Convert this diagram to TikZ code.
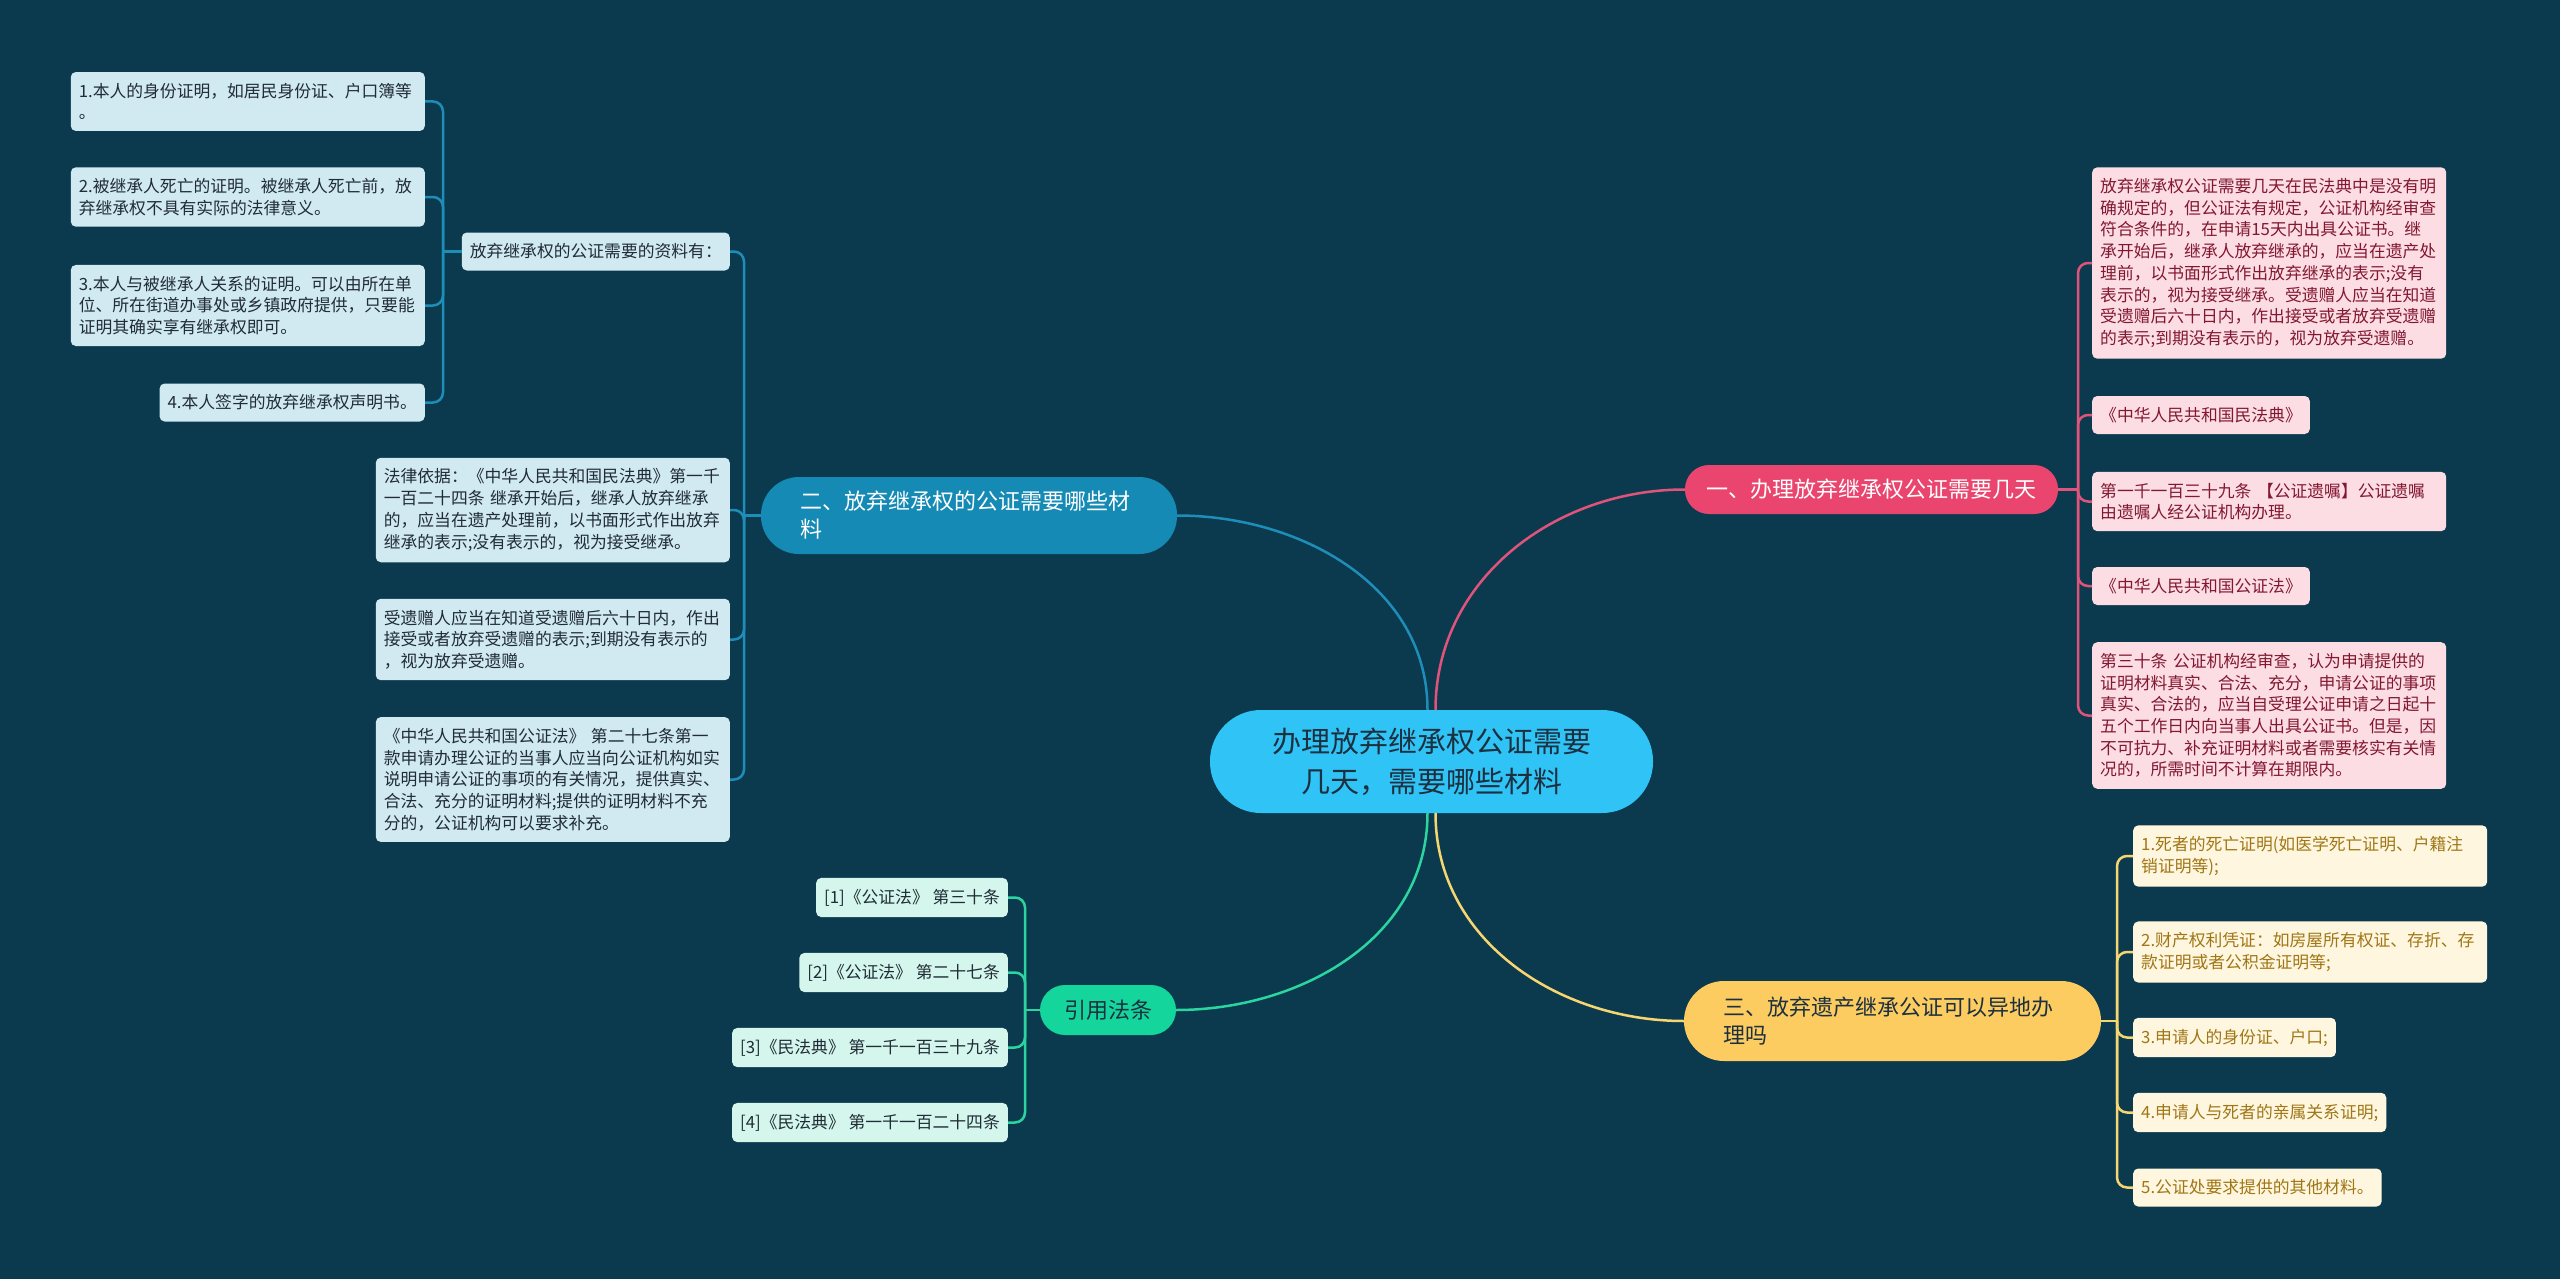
\documentclass[tikz,border=0pt]{standalone}
\usepackage{fontspec}
\setmainfont{Noto Sans CJK SC}
\usepackage{xcolor}
\usepackage{tikz}
\definecolor{bg}{RGB}{11,58,78}
\definecolor{root}{RGB}{48,196,246}
\definecolor{rootText}{RGB}{28,48,64}
\definecolor{pinkBr}{RGB}{233,69,110}
\definecolor{pinkLine}{RGB}{224,84,124}
\definecolor{pinkLeaf}{RGB}{252,221,228}
\definecolor{pinkText}{RGB}{130,24,48}
\definecolor{blueBr}{RGB}{21,138,180}
\definecolor{blueLine}{RGB}{30,142,184}
\definecolor{blueLeaf}{RGB}{209,233,241}
\definecolor{leafText}{RGB}{32,44,54}
\definecolor{yellowBr}{RGB}{253,204,96}
\definecolor{yellowLine}{RGB}{246,214,112}
\definecolor{yellowLeaf}{RGB}{254,246,222}
\definecolor{yellowText}{RGB}{160,118,22}
\definecolor{greenBr}{RGB}{20,214,156}
\definecolor{greenLine}{RGB}{44,212,160}
\definecolor{greenLeaf}{RGB}{212,246,236}

\begin{document}
\begin{tikzpicture}[x=1pt, y=-1pt,
    small/.style={font=\fontsize{16.8}{21.7}\selectfont},
    leaf/.style={small, rounded corners=5pt, inner xsep=8pt, inner ysep=11pt, minimum height=38pt},
    wide/.style={text width=338pt, align=left},
    pleaf/.style={leaf, fill=pinkLeaf, text=pinkText, anchor=west},
    bleaf/.style={leaf, fill=blueLeaf, text=leafText, anchor=east},
    yleaf/.style={leaf, fill=yellowLeaf, text=yellowText, anchor=west},
    gleaf/.style={leaf, fill=greenLeaf, text=leafText, anchor=east},
    branch/.style={font=\fontsize{22}{28}\selectfont},
    link/.style={line width=2.5pt, rounded corners=10pt},
    mainlink/.style={line width=2.5pt}]

    \fill[bg] (0,0) rectangle (2560,1279);
    \useasboundingbox (0,0) rectangle (2560,1279);

    % centre
    \node[fill=root, text=rootText, rounded corners=51pt, minimum width=443, minimum height=103,
          align=center, font=\fontsize{29}{40}\selectfont] (root) at (1431.5,761.5)
        {办理放弃继承权公证需要\\几天，需要哪些材料};

    % branches
    \node[branch, fill=pinkBr, text=white, rounded corners=24pt, minimum width=373, minimum height=49]
        (pk) at (1871.5,489.5) {一、办理放弃继承权公证需要几天};
    \node[branch, fill=blueBr, text=white, rounded corners=38pt, inner xsep=39pt, text width=338pt,
          align=left, minimum height=77] (bl) at (969,515.5) {二、放弃继承权的公证需要哪些材\\料};
    \node[branch, fill=yellowBr, text=rootText, rounded corners=40pt, inner xsep=39pt, text width=339pt,
          align=left, minimum height=80] (yw) at (1892.5,1021) {三、放弃遗产继承公证可以异地办\\理吗};
    \node[branch, fill=greenBr, text=rootText, rounded corners=25pt, minimum width=136, minimum height=50]
        (gr) at (1108,1010) {引用法条};

    % pink leaves
    \node[pleaf, wide] (p1) at (2092,263) {放弃继承权公证需要几天在民法典中是没有明\\确规定的，但公证法有规定，公证机构经审查\\符合条件的，在申请15天内出具公证书。继\\承开始后，继承人放弃继承的，应当在遗产处\\理前，以书面形式作出放弃继承的表示;没有\\表示的，视为接受继承。受遗赠人应当在知道\\受遗赠后六十日内，作出接受或者放弃受遗赠\\的表示;到期没有表示的，视为放弃受遗赠。};
    \node[pleaf] (p2) at (2092,415) {《中华人民共和国民法典》};
    \node[pleaf, wide] (p3) at (2092,501.5) {第一千一百三十九条 【公证遗嘱】公证遗嘱\\由遗嘱人经公证机构办理。};
    \node[pleaf] (p4) at (2092,586) {《中华人民共和国公证法》};
    \node[pleaf, wide] (p5) at (2092,715.5) {第三十条 公证机构经审查，认为申请提供的\\证明材料真实、合法、充分，申请公证的事项\\真实、合法的，应当自受理公证申请之日起十\\五个工作日内向当事人出具公证书。但是，因\\不可抗力、补充证明材料或者需要核实有关情\\况的，所需时间不计算在期限内。};

    % blue leaves
    \node[bleaf] (bint) at (730,251.5) {放弃继承权的公证需要的资料有：};
    \node[bleaf, wide] (l1) at (425,101.5) {1.本人的身份证明，如居民身份证、户口簿等\\。};
    \node[bleaf, wide] (l2) at (425,197) {2.被继承人死亡的证明。被继承人死亡前，放\\弃继承权不具有实际的法律意义。};
    \node[bleaf, wide] (l3) at (425,305.5) {3.本人与被继承人关系的证明。可以由所在单\\位、所在街道办事处或乡镇政府提供，只要能\\证明其确实享有继承权即可。};
    \node[bleaf] (l4) at (425,402.5) {4.本人签字的放弃继承权声明书。};
    \node[bleaf, wide] (b2) at (730,510) {法律依据：《中华人民共和国民法典》第一千\\一百二十四条 继承开始后，继承人放弃继承\\的，应当在遗产处理前，以书面形式作出放弃\\继承的表示;没有表示的，视为接受继承。};
    \node[bleaf, wide] (b3) at (730,639.5) {受遗赠人应当在知道受遗赠后六十日内，作出\\接受或者放弃受遗赠的表示;到期没有表示的\\，视为放弃受遗赠。};
    \node[bleaf, wide] (b4) at (730,779.5) {《中华人民共和国公证法》 第二十七条第一\\款申请办理公证的当事人应当向公证机构如实\\说明申请公证的事项的有关情况，提供真实、\\合法、充分的证明材料;提供的证明材料不充\\分的，公证机构可以要求补充。};

    % yellow leaves
    \node[yleaf, wide] (y1) at (2133,856) {1.死者的死亡证明(如医学死亡证明、户籍注\\销证明等);};
    \node[yleaf, wide] (y2) at (2133,952) {2.财产权利凭证：如房屋所有权证、存折、存\\款证明或者公积金证明等;};
    \node[yleaf] (y3) at (2133,1037.5) {3.申请人的身份证、户口;};
    \node[yleaf] (y4) at (2133,1112.5) {4.申请人与死者的亲属关系证明;};
    \node[yleaf] (y5) at (2133,1187.5) {5.公证处要求提供的其他材料。};

    % green leaves
    \node[gleaf] (g1) at (1008,897.5) {[1]《公证法》 第三十条};
    \node[gleaf] (g2) at (1008,972.5) {[2]《公证法》 第二十七条};
    \node[gleaf] (g3) at (1008,1047.5) {[3]《民法典》 第一千一百三十九条};
    \node[gleaf] (g4) at (1008,1122.5) {[4]《民法典》 第一千一百二十四条};

    % hubs
    \coordinate (ph) at (2078,489.5);
    \coordinate (bh) at (744,515.5);
    \coordinate (ih) at (443,251.5);
    \coordinate (yh) at (2117,1021);
    \coordinate (gh) at (1025,1010);

    % main connectors
    \draw[mainlink, pinkLine] ([xshift=4pt]root.north) to[out=90, in=180] (pk.west);
    \draw[mainlink, blueLine] ([xshift=-4pt]root.north) to[out=90, in=0] (bl.east);
    \draw[mainlink, greenLine] ([xshift=-4pt]root.south) to[out=-90, in=0] (gr.east);
    \draw[mainlink, yellowLine] ([xshift=4pt]root.south) to[out=-90, in=180] (yw.west);

    % branch connectors
    \draw[link, pinkLine] (pk.east) -- (ph);
    \foreach \n in {p1,p2,p3,p4,p5} \draw[link, pinkLine] (ph) |- (\n.west);
    \draw[link, blueLine] (bl.west) -- (bh);
    \foreach \n in {bint,b2,b3,b4} \draw[link, blueLine] (bh) |- (\n.east);
    \draw[link, blueLine] (bint.west) -- (ih);
    \foreach \n in {l1,l2,l3,l4} \draw[link, blueLine] (ih) |- (\n.east);
    \draw[link, yellowLine] (yw.east) -- (yh);
    \foreach \n in {y1,y2,y3,y4,y5} \draw[link, yellowLine] (yh) |- (\n.west);
    \draw[link, greenLine] (gr.west) -- (gh);
    \foreach \n in {g1,g2,g3,g4} \draw[link, greenLine] (gh) |- (\n.east);
\end{tikzpicture}
\end{document}
